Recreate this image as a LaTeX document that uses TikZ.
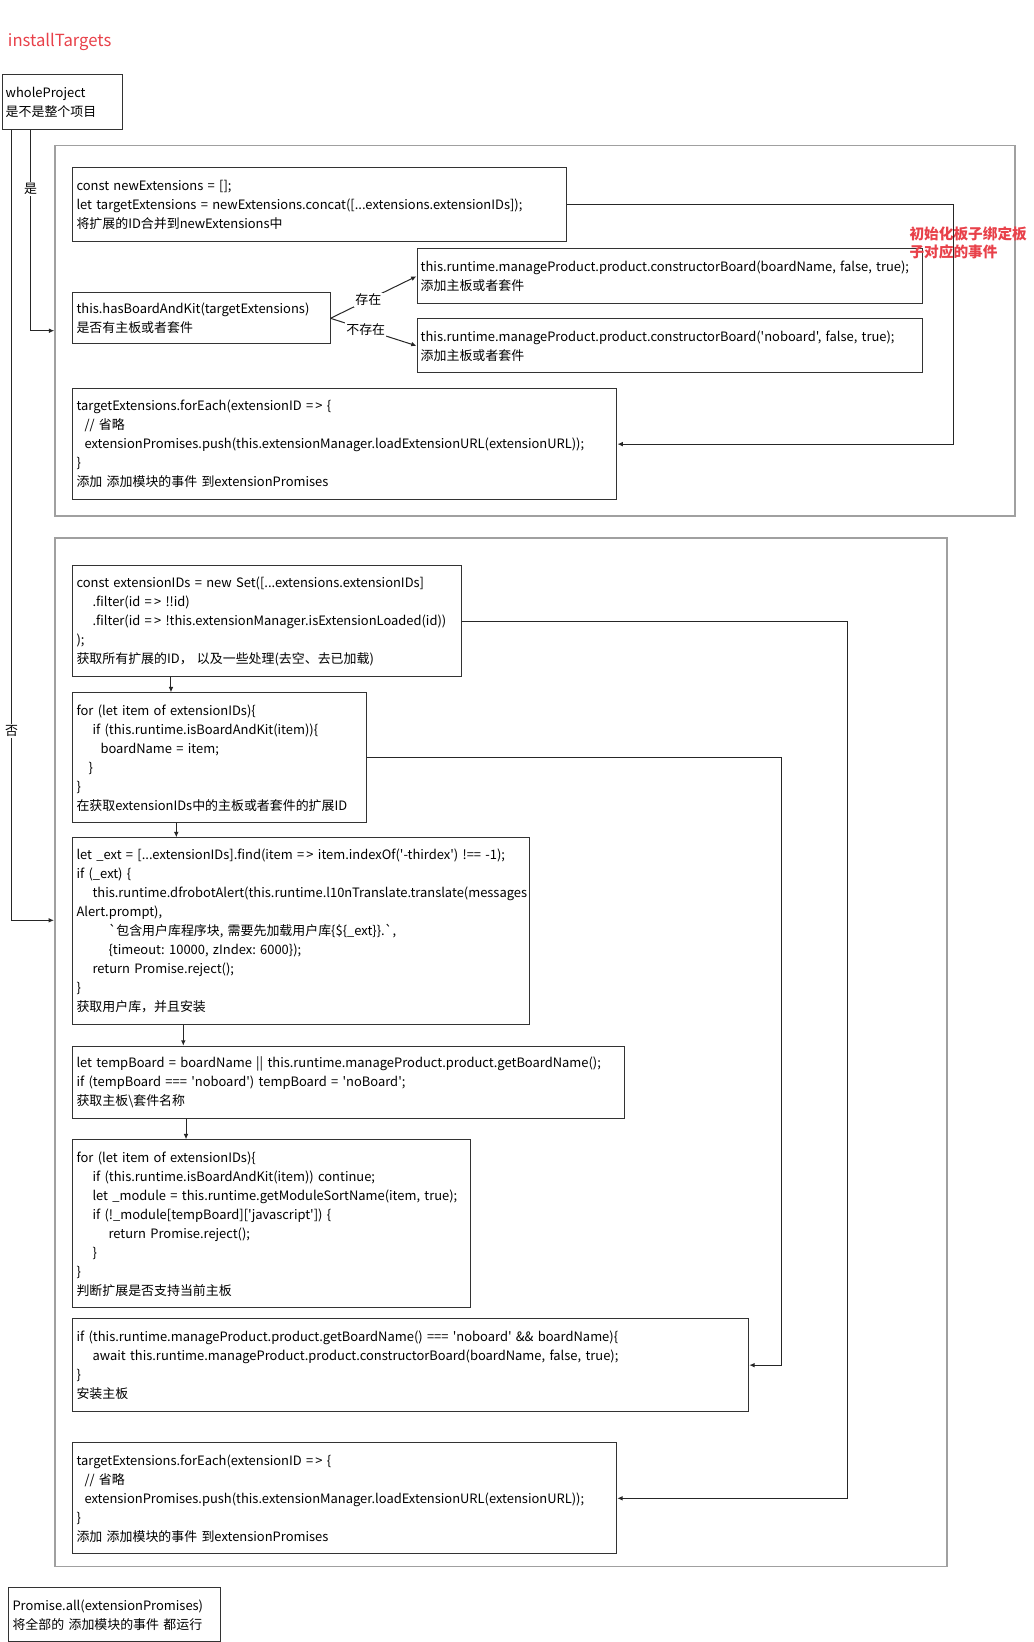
\documentclass[tikz,border=0pt]{standalone}
\usepackage{fontspec}
\newfontfamily\diagfont{Noto Sans CJK SC}
\usepackage{tikz}
\usetikzlibrary{positioning}
\usetikzlibrary{calc}
\usetikzlibrary{arrows.meta}
\usepackage{xcolor}
\definecolor{boxline}{HTML}{333333}
\definecolor{grpline}{HTML}{A0A0A0}
\definecolor{notered}{HTML}{E8414A}
\newcommand{\codetab}[1]{\hspace*{#1pt}}
\tikzset{
    codebox/.style 2 args={draw=boxline, line width=0.75pt, anchor=north west, align=left,
        text width=#1, minimum height=#2, inner xsep=2.8pt, inner ysep=0pt,
        font=\diagfont\fontsize{9.7}{14.25}\selectfont\frenchspacing},
    grpbox/.style 2 args={draw=grpline, line width=1.2pt, anchor=north west,
        minimum width=#1, minimum height=#2, inner sep=0pt},
    arrow/.style={draw=black!85, line width=0.75pt, -{Latex[length=4pt,width=3.5pt]}},
    lbl/.style={fill=white, inner sep=1pt, font=\diagfont\fontsize{9.7}{12}\selectfont}
}
\begin{document}
\begin{tikzpicture}[x=0.75pt,y=-0.75pt]
        \useasboundingbox (0,0) rectangle (1034,1642);
        \node[anchor=west, inner sep=0pt, text=notered, font=\diagfont\fontsize{12.5}{15}\selectfont] (title) at (7.7,41.5) {installTargets};
        \node[codebox={84.5pt}{41.25pt}] (whole) at (1.5,74.3) {wholeProject\\是不是整个项目};
        % the two groups
        \node[grpbox={719.8pt}{277.7pt}] (initgrp) at (54.3,144.7) {};
        \node[grpbox={669pt}{771.4pt}] (loadgrp) at (54,537.2) {};
        \coordinate (yesend) at (initgrp.west |- 0,330.7);
        \coordinate (noend) at (loadgrp.west |- 0,920.3);
        % first group
        \node[codebox={365pt}{55.3pt}] (newext) at (72.3,167.3) {const newExtensions = [];\\let targetExtensions = newExtensions.concat([...extensions.extensionIDs]);\\将扩展的ID合并到newExtensions中};
        \node[codebox={187.3pt}{38.25pt}] (hasbk) at (72.3,292.3) {this.hasBoardAndKit(targetExtensions)\\是否有主板或者套件};
        \node[codebox={373.7pt}{41.25pt}] (cbname) at (416.5,248.3) {this.runtime.manageProduct.product.constructorBoard(boardName, false, true);\\添加主板或者套件};
        \node[codebox={373.7pt}{40.5pt}] (cnoboard) at (416.5,318.3) {this.runtime.manageProduct.product.constructorBoard('noboard', false, true);\\添加主板或者套件};
        \node[codebox={402.5pt}{83pt}] (initeach) at (72.3,388.3) {targetExtensions.forEach(extensionID =\,> \{\\\codetab{6}// 省略\\\codetab{6}extensionPromises.push(this.extensionManager.loadExtensionURL(extensionURL));\\\}\\添加 添加模块的事件 到extensionPromises};
        \node[anchor=west, align=left, inner sep=0pt, text=notered, font=\diagfont\bfseries\fontsize{11}{13.3}\selectfont] (note) at (909.3,243) {初始化板子绑定板\\子对应的事件};
        % second group
        \node[codebox={285.9pt}{83.5pt}] (extids) at (72.3,565) {const extensionIDs = new Set([...extensions.extensionIDs]\\\codetab{12}.filter(id =\,> !!id)\\\codetab{12}.filter(id =\,> !this.extensionManager.isExtensionLoaded(id))\\);\\获取所有扩展的ID， 以及一些处理(去空、去已加载)};
        \node[codebox={214.7pt}{97.5pt}] (findbk) at (72.3,692.3) {for (let item of extensionIDs)\{\\\codetab{12}if (this.runtime.isBoardAndKit(item))\{\\\codetab{18}boardName = item;\\\codetab{9}\}\\\}\\在获取extensionIDs中的主板或者套件的扩展ID};
        \node[codebox={337.2pt}{140.25pt}] (userlib) at (72.3,837.3) {let \_ext = [...extensionIDs].find(item =\,> item.indexOf('-thirdex') !== -1);\\if (\_ext) \{\\\codetab{12}this.runtime.dfrobotAlert(this.runtime.l10nTranslate.translate(messages\\Alert.prompt),\\\codetab{24}`包含用户库程序块, 需要先加载用户库\{\$\{\_ext\}\}.`,\\\codetab{24}\{timeout: 10000, zIndex: 6000\});\\\codetab{12}return Promise.reject();\\\}\\获取用户库，并且安装};
        \node[codebox={407.8pt}{54.45pt}] (tempbd) at (72.3,1045.7) {let tempBoard = boardName || this.runtime.manageProduct.product.getBoardName();\\if (tempBoard === 'noboard') tempBoard = 'noBoard';\\获取主板\textbackslash 套件名称};
        \node[codebox={292.3pt}{126pt}] (support) at (72.3,1139.3) {for (let item of extensionIDs)\{\\\codetab{12}if (this.runtime.isBoardAndKit(item)) continue;\\\codetab{12}let \_module = this.runtime.getModuleSortName(item, true);\\\codetab{12}if (!\_module[tempBoard]['javascript']) \{\\\codetab{24}return Promise.reject();\\\codetab{12}\}\\\}\\判断扩展是否支持当前主板};
        \node[codebox={501.4pt}{69.5pt}] (installbd) at (72.3,1318.3) {if (this.runtime.manageProduct.product.getBoardName() === 'noboard' \&\& boardName)\{\\\codetab{12}await this.runtime.manageProduct.product.constructorBoard(boardName, false, true);\\\}\\安装主板};
        \node[codebox={402.4pt}{83.25pt}] (loadeach) at (72.3,1442.3) {targetExtensions.forEach(extensionID =\,> \{\\\codetab{6}// 省略\\\codetab{6}extensionPromises.push(this.extensionManager.loadExtensionURL(extensionURL));\\\}\\添加 添加模块的事件 到extensionPromises};
        \node[codebox={153.4pt}{40.5pt}] (runall) at (8.3,1587.3) {Promise.all(extensionPromises)\\将全部的 添加模块的事件 都运行};
        % connectors
        \draw[arrow] ([xshift=21.8pt]whole.south west) |- node[lbl, pos=0.146] (yeslbl) {是} (yesend);
        \draw[arrow] ([xshift=7.5pt]whole.south west) |- node[lbl, pos=0.38] (nolbl) {否} (noend);
        \draw[arrow] (hasbk.east) -- node[lbl, pos=0.44] (haslbl) {存在} (cbname.west);
        \draw[arrow] (hasbk.east) -- node[lbl, pos=0.41] (nonelbl) {不存在} (cnoboard.west);
        \draw[arrow] (newext.east) -- ++(385.8,0) |- (initeach.east);
        \draw[arrow] (extids.east) -- ++(385.7,0) |- (loadeach.east);
        \draw[arrow] (findbk.east) -- ++(414.3,0) |- (installbd.east);
        \draw[arrow] ([xshift=74pt]extids.south west) -- ([xshift=74pt]findbk.north west);
        \draw[arrow] ([xshift=78pt]findbk.south west) -- ([xshift=78pt]userlib.north west);
        \draw[arrow] ([xshift=83.25pt]userlib.south west) -- ([xshift=83.25pt]tempbd.north west);
        \draw[arrow] ([xshift=85.3pt]tempbd.south west) -- ([xshift=85.3pt]support.north west);
    \end{tikzpicture}
\end{document}
